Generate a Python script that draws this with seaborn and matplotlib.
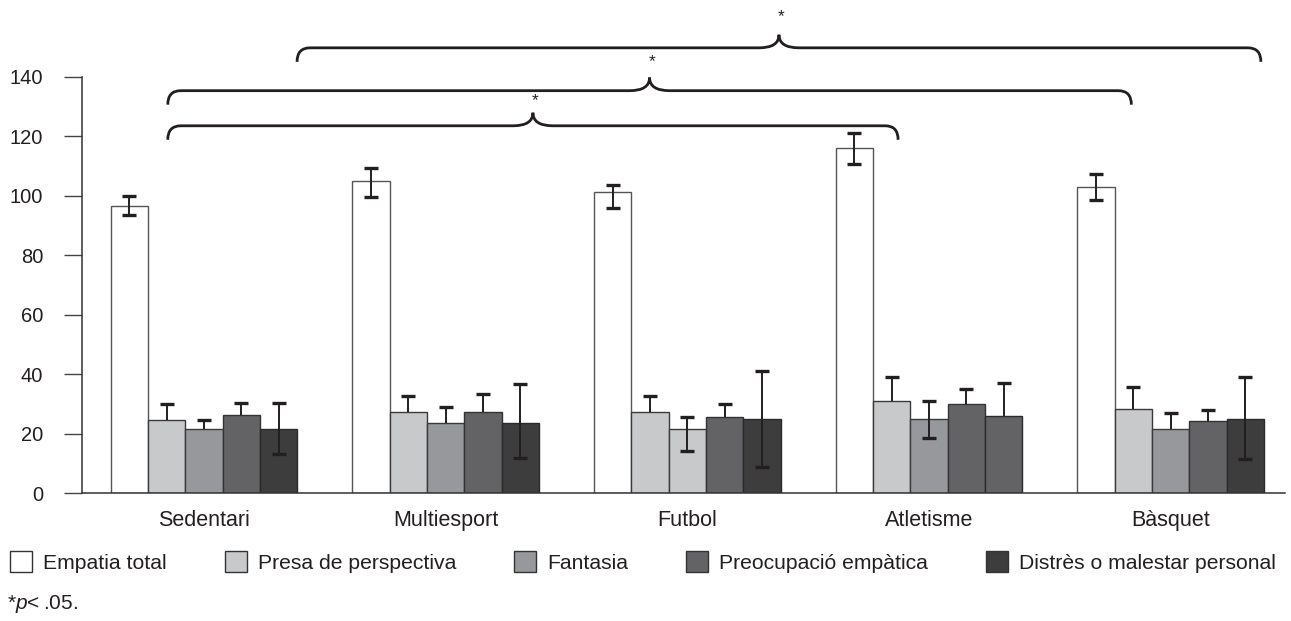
import numpy as np
import pandas as pd
import matplotlib
matplotlib.use("Agg")
import matplotlib.pyplot as plt
from matplotlib.patches import Patch, PathPatch
from matplotlib.path import Path
import seaborn as sns

# dades llegides del gràfic
grups = ["Sedentari", "Multiesport", "Futbol", "Atletisme", "Bàsquet"]
escales = ["Empatia total", "Presa de perspectiva", "Fantasia",
           "Preocupació empàtica", "Distrès o malestar personal"]

empatia = [96.5, 105.0, 101.3, 116.1, 103.0]
empatia_up = [3.4, 4.4, 2.3, 4.9, 4.3]
empatia_low = [3.1, 5.3, 5.5, 5.6, 4.6]

presa = [24.5, 27.4, 27.4, 31.1, 28.3]
presa_up = [5.5, 5.4, 5.4, 8.1, 7.5]
presa_low = [0, 0, 0, 0, 0]

fantasia = [21.5, 23.7, 21.5, 24.9, 21.7]
fantasia_up = [3.0, 5.4, 4.2, 6.2, 5.4]
fantasia_low = [0, 0, 7.2, 6.2, 0]

preocup = [26.4, 27.4, 25.5, 30.1, 24.4]
preocup_up = [3.8, 5.9, 4.6, 4.8, 3.7]
preocup_low = [0, 0, 0, 0, 0]

distres = [21.5, 23.7, 25.1, 26.1, 25.1]
distres_up = [8.7, 13.1, 16.1, 11.1, 14.1]
distres_low = [8.4, 11.9, 16.3, 0, 13.5]

# comparacions significatives (grup esquerre, grup dret)
comparacions = [("Sedentari", "Atletisme"), ("Sedentari", "Bàsquet"),
                ("Multiesport", "Bàsquet")]

mitjanes = [empatia, presa, fantasia, preocup, distres]
errs_up = [empatia_up, presa_up, fantasia_up, preocup_up, distres_up]
errs_low = [empatia_low, presa_low, fantasia_low, preocup_low, distres_low]

colors = ["#ffffff", "#c8c9cb", "#97989b", "#636365", "#3d3d3d"]
vores = ["#555555", "#3a3a3a", "#3a3a3a", "#333333", "#2a2a2a"]
# a l'original alguna barra surt amb un altre to
color_excepcions = {("Fantasia", "Futbol"): "#c8c9cb",
                    ("Distrès o malestar personal", "Atletisme"): "#636365"}

text_color = "#231f20"

sns.set_style("white")
plt.rcParams["font.family"] = ["Liberation Sans", "DejaVu Sans"]
plt.rcParams["mathtext.fontset"] = "custom"
plt.rcParams["mathtext.rm"] = "Liberation Sans"
plt.rcParams["mathtext.it"] = "Liberation Sans:italic"

rows = []
for esc, vals in zip(escales, mitjanes):
    for g, v in zip(grups, vals):
        rows.append({"grup": g, "escala": esc, "valor": v})
df = pd.DataFrame(rows)

fig = plt.figure(figsize=(12.91, 6.21), dpi=100)
ax = fig.add_axes([0.0633, 0.2056, 0.9321, 0.6709])

sns.barplot(data=df, x="grup", y="valor", hue="escala", order=grups,
            hue_order=escales, palette=colors, width=0.772, gap=0,
            errorbar=None, saturation=1, legend=False, ax=ax, zorder=2)

for i, cont in enumerate(ax.containers):
    for j, p in enumerate(cont):
        p.set_edgecolor(vores[i])
        p.set_linewidth(1.0)
        key = (escales[i], grups[j])
        if key in color_excepcions:
            p.set_facecolor(color_excepcions[key])
    xs = np.array([p.get_x() + p.get_width() / 2 for p in cont])
    m = np.array(mitjanes[i])
    up = np.array(errs_up[i])
    low = np.array(errs_low[i])
    ax.vlines(xs, m - low, m + up, color="#231f20", lw=1.4, zorder=3)
    ax.plot(xs, m + up, ls="none", marker="_", ms=10, mew=2.4,
            color="#231f20", zorder=3)
    mask = low > 0
    ax.plot(xs[mask], (m - low)[mask], ls="none", marker="_", ms=10,
            mew=2.4, color="#231f20", zorder=3)

ax.set_ylim(0, 140)
ax.set_xlim(-0.506, 4.473)
ax.set_yticks(range(0, 141, 20))
ax.set_xlabel("")
ax.set_ylabel("")
sns.despine(ax=ax)
for s in ["left", "bottom"]:
    ax.spines[s].set_color("#333333")
    ax.spines[s].set_linewidth(1.1)
ax.tick_params(axis="y", length=12.7, width=1.0, color="#444444",
               pad=15, labelsize=14.5, labelcolor=text_color, left=True)
ax.tick_params(axis="x", length=0, pad=12, labelsize=15.5,
               labelcolor=text_color)

# claus de significació
sx = 13 / 241.7   # corba dels extrems
sy = 4.7
cw = 20 / 241.7   # mitja amplada del pic
rise = 4.4
nivells = [123.5, 135.3, 149.7]
estrella_dy = [1.7, 2.7, 3.4]
inici = {"Sedentari": -0.15, "Multiesport": 0.385}
finals = [2.872, 3.837, 4.373]
for k, (a, b) in enumerate(comparacions):
    x0 = inici[a]
    x1 = finals[k]
    y = nivells[k]
    xm = (x0 + x1) / 2
    verts = [(x0, y - sy), (x0, y), (x0 + sx, y),
             (xm - cw, y), (xm, y), (xm, y + rise),
             (xm, y), (xm + cw, y),
             (x1 - sx, y), (x1, y), (x1, y - sy)]
    codes = [Path.MOVETO, Path.CURVE3, Path.CURVE3,
             Path.LINETO, Path.CURVE3, Path.CURVE3,
             Path.CURVE3, Path.CURVE3,
             Path.LINETO, Path.CURVE3, Path.CURVE3]
    ax.add_patch(PathPatch(Path(verts, codes), fill=False, lw=2.0,
                           edgecolor="#231f20", clip_on=False, zorder=4,
                           capstyle="butt"))
    ax.text(xm + 0.01, y + rise + estrella_dy[k], "*", ha="center",
            va="bottom", fontsize=12.5, color=text_color, clip_on=False)

handles = [Patch(facecolor=c, edgecolor="#333333", lw=1.0) for c in colors]
fig.legend(handles, escales, loc="center left",
           bbox_to_anchor=(10 / 1291, 1 - 562 / 621), ncol=5, frameon=False,
           fontsize=15.2, handlelength=1.06, handleheight=1.1,
           handletextpad=0.5, columnspacing=2.75, borderpad=0,
           borderaxespad=0, labelcolor=text_color)

fig.text(7 / 1291, 1 - 604 / 621, r"*$\mathit{p}$<" + "\u2009.05.",
         fontsize=15, color=text_color, ha="left", va="center")

fig.savefig("out.png", dpi=100)
